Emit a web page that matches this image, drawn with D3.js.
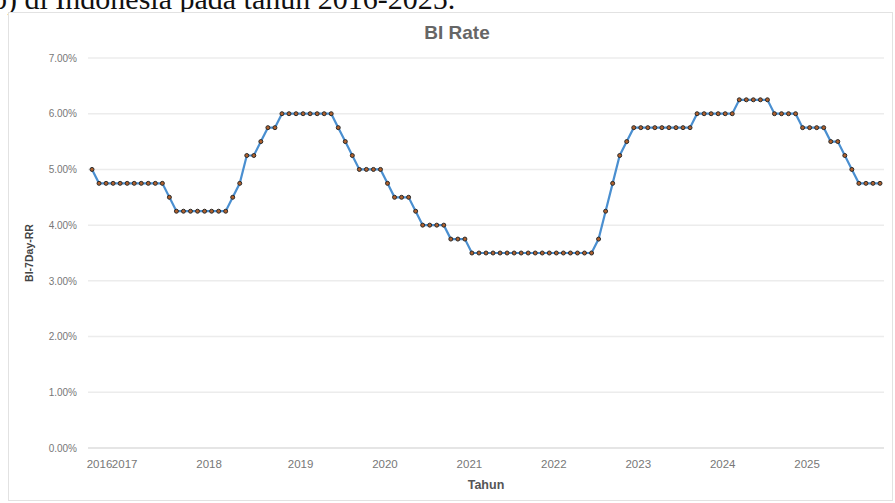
<!DOCTYPE html>
<html>
<head>
<meta charset="utf-8">
<script src="https://cdn.jsdelivr.net/npm/d3@7"></script>
<style>
  body { margin: 0; background: #fff; }
  svg { display: block; }
</style>
</head>
<body>
<script>
// BI 7-Day Reverse Repo Rate, one point per board meeting (May 2018 had two)
let periods = [
  '2016-09','2016-10','2016-11','2016-12',
  '2017-01','2017-02','2017-03','2017-04','2017-05','2017-06','2017-07','2017-08','2017-09','2017-10','2017-11','2017-12',
  '2018-01','2018-02','2018-03','2018-04','2018-05a','2018-05b','2018-06','2018-07','2018-08','2018-09','2018-10','2018-11','2018-12',
  '2019-01','2019-02','2019-03','2019-04','2019-05','2019-06','2019-07','2019-08','2019-09','2019-10','2019-11','2019-12',
  '2020-01','2020-02','2020-03','2020-04','2020-05','2020-06','2020-07','2020-08','2020-09','2020-10','2020-11','2020-12',
  '2021-01','2021-02','2021-03','2021-04','2021-05','2021-06','2021-07','2021-08','2021-09','2021-10','2021-11','2021-12',
  '2022-01','2022-02','2022-03','2022-04','2022-05','2022-06','2022-07','2022-08','2022-09','2022-10','2022-11','2022-12',
  '2023-01','2023-02','2023-03','2023-04','2023-05','2023-06','2023-07','2023-08','2023-09','2023-10','2023-11','2023-12',
  '2024-01','2024-02','2024-03','2024-04','2024-05','2024-06','2024-07','2024-08','2024-09','2024-10','2024-11','2024-12',
  '2025-01','2025-02','2025-03','2025-04','2025-05','2025-06','2025-07','2025-08','2025-09','2025-10','2025-11','2025-12'
];

let rates = [
  5.00, 4.75, 4.75, 4.75,
  4.75, 4.75, 4.75, 4.75, 4.75, 4.75, 4.75, 4.50, 4.25, 4.25, 4.25, 4.25,
  4.25, 4.25, 4.25, 4.25, 4.50, 4.75, 5.25, 5.25, 5.50, 5.75, 5.75, 6.00, 6.00,
  6.00, 6.00, 6.00, 6.00, 6.00, 6.00, 5.75, 5.50, 5.25, 5.00, 5.00, 5.00,
  5.00, 4.75, 4.50, 4.50, 4.50, 4.25, 4.00, 4.00, 4.00, 4.00, 3.75, 3.75,
  3.75, 3.50, 3.50, 3.50, 3.50, 3.50, 3.50, 3.50, 3.50, 3.50, 3.50, 3.50,
  3.50, 3.50, 3.50, 3.50, 3.50, 3.50, 3.50, 3.75, 4.25, 4.75, 5.25, 5.50,
  5.75, 5.75, 5.75, 5.75, 5.75, 5.75, 5.75, 5.75, 5.75, 6.00, 6.00, 6.00,
  6.00, 6.00, 6.00, 6.25, 6.25, 6.25, 6.25, 6.25, 6.00, 6.00, 6.00, 6.00,
  5.75, 5.75, 5.75, 5.75, 5.50, 5.50, 5.25, 5.00, 4.75, 4.75, 4.75, 4.75
];

let yTicks = [0, 1, 2, 3, 4, 5, 6, 7];
let yearTicks = ['2016-09','2017-01','2018-01','2019-01','2020-01','2021-01','2022-01','2023-01','2024-01','2025-01'];

let data = periods.map((p, i) => ({ period: p, rate: rates[i] }));

let width = 895, height = 503;

let svg = d3.select('body')
  .append('svg')
  .attr('width', width)
  .attr('height', height);

// caption of the document, cut by the crop
svg.append('text')
  .attr('x', -8)
  .attr('y', 9)
  .style('font-family', '"Liberation Serif", serif')
  .style('font-size', '30px')
  .style('fill', '#111')
  .text('b) di Indonesia pada tahun 2016-2025.');

// chart frame
svg.append('rect')
  .attr('x', 8.5)
  .attr('y', 12.5)
  .attr('width', 884)
  .attr('height', 488)
  .attr('fill', '#fff')
  .attr('stroke', '#e2e2e2');

let xScale = d3.scalePoint()
  .domain(periods)
  .range([92, 880]);

let yScale = d3.scaleLinear()
  .domain([0, 7])
  .range([448, 58]);

// gridlines
svg.append('g')
  .selectAll('line')
  .data(yTicks)
  .enter()
  .append('line')
  .attr('x1', 88)
  .attr('x2', 884)
  .attr('y1', d => yScale(d))
  .attr('y2', d => yScale(d))
  .attr('stroke', d => d === 0 ? '#dcdcdc' : '#ececec')
  .attr('stroke-width', 1.5);

// y axis
let yAxis = svg.append('g')
  .attr('transform', 'translate(80,0)')
  .call(d3.axisLeft(yScale).tickValues(yTicks).tickSize(0).tickFormat(d => d.toFixed(2) + '%'));
yAxis.select('.domain').remove();
yAxis.selectAll('text')
  .style('font-family', '"Liberation Sans", Arial, sans-serif')
  .style('font-size', '10px')
  .style('fill', '#777');

// x axis
let xAxis = svg.append('g')
  .attr('transform', 'translate(0,457)')
  .call(d3.axisBottom(xScale).tickValues(yearTicks).tickSize(0).tickFormat(d => d.slice(0, 4)));
xAxis.select('.domain').remove();
xAxis.selectAll('text')
  .attr('dx', (d, i) => i === 0 ? 7 : 4)
  .style('font-family', '"Liberation Sans", Arial, sans-serif')
  .style('font-size', '11.5px')
  .style('fill', '#777');

// titles
svg.append('text')
  .attr('x', 457)
  .attr('y', 39)
  .attr('text-anchor', 'middle')
  .style('font-family', '"Liberation Sans", Arial, sans-serif')
  .style('font-size', '19px')
  .style('font-weight', 'bold')
  .style('fill', '#666')
  .text('BI Rate');

svg.append('text')
  .attr('x', 486)
  .attr('y', 489)
  .attr('text-anchor', 'middle')
  .style('font-family', '"Liberation Sans", Arial, sans-serif')
  .style('font-size', '12.5px')
  .style('font-weight', 'bold')
  .style('fill', '#555')
  .text('Tahun');

svg.append('text')
  .attr('transform', 'translate(33,253) rotate(-90)')
  .attr('text-anchor', 'middle')
  .style('font-family', '"Liberation Sans", Arial, sans-serif')
  .style('font-size', '10.5px')
  .style('font-weight', 'bold')
  .style('fill', '#444')
  .text('BI-7Day-RR');

// line
let line = d3.line()
  .x(d => xScale(d.period))
  .y(d => yScale(d.rate));

svg.append('path')
  .datum(data)
  .attr('d', line)
  .attr('fill', 'none')
  .attr('stroke', '#4a8fd0')
  .attr('stroke-width', 2.2);

// markers
svg.append('g')
  .selectAll('circle')
  .data(data)
  .enter()
  .append('circle')
  .attr('cx', d => xScale(d.period))
  .attr('cy', d => yScale(d.rate))
  .attr('r', 2)
  .attr('fill', '#b0602c')
  .attr('stroke', '#2a2a2a')
  .attr('stroke-width', 1);
</script>
</body>
</html>
